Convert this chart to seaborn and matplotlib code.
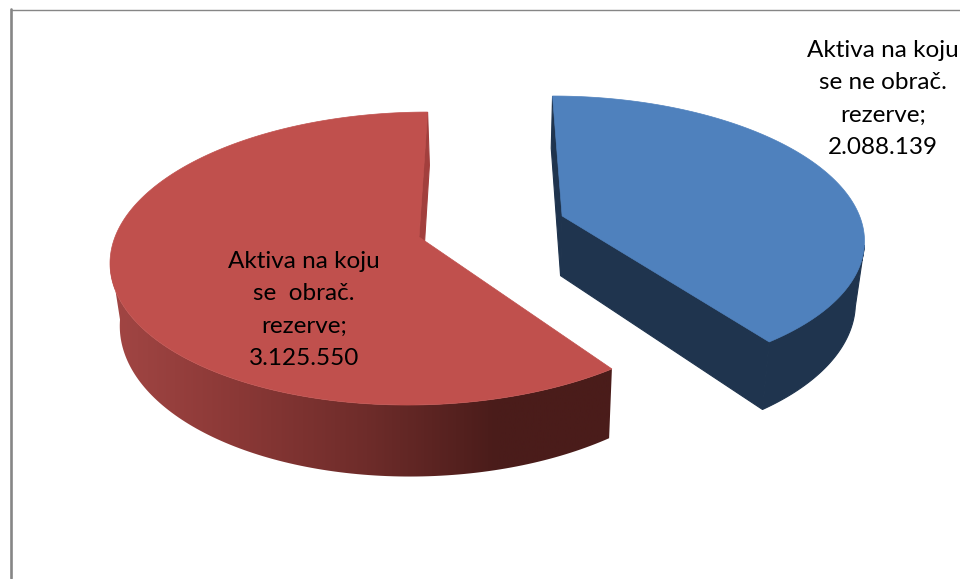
import numpy as np
import seaborn as sns
import matplotlib.pyplot as plt
from matplotlib.patches import Polygon

# values as printed on the chart
categories = ["Aktiva na koju\nse ne obrač.\nrezerve;", "Aktiva na koju\nse  obrač.\nrezerve;"]
value_labels = ["2.088.139", "3.125.550"]
values = [2088139, 3125550]

# look of the 3d pie, all in pixels of the picture
top_colors = ["#4F81BD", "#C0504D"]
blue_wall = "#1F344E"
red_wall = ["#A24644", "#8A3836", "#6E2C2A", "#4A1C1A", "#4A1C1A"]
red_cut = "#A23F3D"
slice_centres = [(77.8 / 304, 0.15), (-67 / 304, 0.0)]
radius = 304
persp = 0.147
x_vanish = 486
y_vanish = -738
y_scale = 975
wall_h = 61
# angle (deg from top, clockwise) where the side wall leaves the silhouette
wall_turn = [102, 262]
label_pos = [(883, 99), (304, 310)]

sns.set_theme(style="white")
plt.rcParams["font.family"] = ["Lato", "DejaVu Sans"]


def project(u, v, lower=False):
    # unit disc coordinates to picture pixels, with the perspective of the chart
    u, v = np.asarray(u, float), np.asarray(v, float)
    d = 1 + persp * v
    x = x_vanish + radius * u / d
    y = y_vanish + y_scale / d
    if lower:
        x = 500 + (x - 500) * 0.975
        y = y + wall_h / d
    return x, y


def rim(centre, a0, a1, n):
    t = np.linspace(a0, a1, n)
    return centre[0] + np.sin(t), centre[1] + np.cos(t)


def face(ax, p0, p1, color):
    # flat cut face between the slice centre and its rim
    x0, y0 = project(*p0)
    x1, y1 = project(*p1)
    x2, y2 = project(*p1, lower=True)
    x3, y3 = project(*p0, lower=True)
    ax.fill([x0, x1, x2, x3], [y0, y1, y2, y3], color=color, lw=0.8, zorder=2.2)


fig = plt.figure(figsize=(9.6, 5.79), dpi=100)
ax = fig.add_axes([0, 0, 1, 1])

# chart frame, only top and left are in the picture
ax.plot([10.5, 960], [9.5, 9.5], color="#868686", lw=1.0, zorder=1)
ax.plot([10.5, 10.5], [9, 578], color="#868686", lw=1.9, zorder=1)

angles = np.cumsum([0] + values) / sum(values) * 2 * np.pi
gradient = np.array(sns.blend_palette(red_wall, 256))[np.newaxis, :, :]

for i, centre in enumerate(slice_centres):
    a0, a1 = angles[i], angles[i + 1]
    u, v = rim(centre, a0, a1, 241)

    # only the part of the rim that faces the viewer gets an outer wall
    if i == 0:
        wu, wv = rim(centre, np.radians(wall_turn[0]), a1, 80)
    else:
        wu, wv = rim(centre, a0, np.radians(wall_turn[1]), 120)
    xt, yt = project(wu, wv)
    xb, yb = project(wu, wv, lower=True)
    band = np.c_[np.r_[xt, xb[::-1]], np.r_[yt, yb[::-1]]]

    if i == 0:
        ax.add_patch(Polygon(band, color=blue_wall, lw=0.8, zorder=2))
        face(ax, centre, (u[0], v[0]), blue_wall)
        face(ax, centre, (u[-1], v[-1]), blue_wall)
    else:
        img = ax.imshow(gradient, extent=[110, 625, 500, 100], aspect="auto", zorder=2)
        img.set_clip_path(Polygon(band, transform=ax.transData))
        face(ax, centre, (u[-1], v[-1]), red_cut)

    x, y = project(np.r_[centre[0], u], np.r_[centre[1], v])
    ax.fill(x, y, color=top_colors[i], lw=0.5, zorder=3)

for name, val, (x, y) in zip(categories, value_labels, label_pos):
    ax.text(x, y, name + "\n" + val, ha="center", va="center", fontsize=17.5,
            linespacing=1.66, color="black", zorder=4)

ax.set_xlim(0, 960)
ax.set_ylim(579, 0)
ax.axis("off")

fig.savefig("out.png", dpi=100)
